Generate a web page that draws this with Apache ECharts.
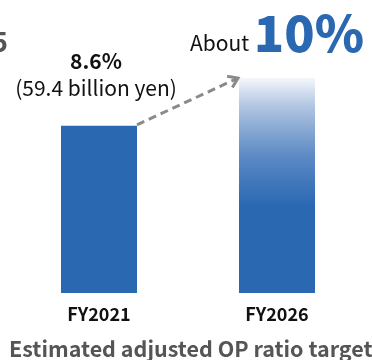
<!DOCTYPE html>
<html>
<head>
<meta charset="utf-8">
<style>
  html, body { margin: 0; padding: 0; background: #fff; }
  #chart { width: 372px; height: 360px; }
</style>
<script src="https://cdn.jsdelivr.net/npm/echarts@6/dist/echarts.min.js"></script>
</head>
<body>
<div id="chart"></div>
<script>
// Operating profit ratio: actual vs. target
const categories = ['FY2021', 'FY2026'];
const opRatio = [8.6, 10];
const profitLabel = '(59.4 billion yen)';
const targetPrefix = 'About';
const chartTitle = 'Estimated adjusted OP ratio target';

const FONT = '"Noto Sans CJK JP", "Noto Sans", sans-serif';
const BLUE = '#2a68b2';

const chart = echarts.init(document.getElementById('chart'), null, { renderer: 'canvas' });

const option = {
  animation: false,
  grid: { left: 10, right: 6, top: 78, bottom: 67, containLabel: false },
  xAxis: {
    type: 'category',
    data: categories,
    axisLine: { show: false },
    axisTick: { show: false },
    axisLabel: {
      margin: 12,
      color: '#111',
      fontFamily: FONT,
      fontWeight: 'bold',
      fontSize: 18
    }
  },
  yAxis: {
    type: 'value',
    min: 3.7,
    max: 10,
    show: false,
    splitLine: { show: false }
  },
  series: [
    {
      type: 'bar',
      barWidth: 76,
      data: [
        {
          value: opRatio[0],
          itemStyle: { color: BLUE },
          label: {
            show: true,
            position: 'top',
            distance: 24,
            offset: [-3, 0],
            formatter: '{a|' + opRatio[0] + '%}\n{b|' + profitLabel + '}',
            rich: {
              a: { fontFamily: FONT, fontSize: 21, fontWeight: 'bold', color: '#111', lineHeight: 26 },
              b: { fontFamily: FONT, fontSize: 21, color: '#111', lineHeight: 28 }
            }
          }
        },
        {
          value: opRatio[1],
          // target bar fades out toward its top
          itemStyle: {
            color: new echarts.graphic.LinearGradient(0, 0, 0, 1, [
              { offset: 0, color: '#f4f7fb' },
              { offset: 0.12, color: '#b6c9e4' },
              { offset: 0.24, color: '#87a8d3' },
              { offset: 0.36, color: '#5e8bc6' },
              { offset: 0.48, color: '#4278bb' },
              { offset: 0.6, color: BLUE },
              { offset: 1, color: BLUE }
            ])
          },
          label: {
            show: true,
            position: 'top',
            distance: 20,
            offset: [0, 0],
            formatter: '{p|' + targetPrefix + ' }{v|' + opRatio[1] + '%}',
            rich: {
              p: { fontFamily: FONT, fontSize: 21, color: '#111', verticalAlign: 'bottom', padding: [0, 0, 4, 0] },
              v: { fontFamily: FONT, fontSize: 50, fontWeight: 900, color: BLUE, verticalAlign: 'bottom' }
            }
          }
        }
      ]
    }
  ],
  graphic: [
    {
      type: 'text',
      left: 9,
      bottom: 0,
      style: {
        text: chartTitle,
        fontFamily: FONT,
        fontSize: 21.5,
        fontWeight: 'bold',
        fill: '#555'
      }
    },
    {
      type: 'text',
      right: 364,
      top: 28,
      style: {
        text: '5',
        fontFamily: FONT,
        fontSize: 27,
        fontWeight: 'bold',
        fill: '#555'
      }
    }
  ]
};

chart.setOption(option);

// Dashed trend arrow from the FY2021 bar top toward the FY2026 bar
function drawArrow() {
  const p0 = chart.convertToPixel({ gridIndex: 0 }, [0, opRatio[0]]);
  const p1 = chart.convertToPixel({ gridIndex: 0 }, [1, opRatio[1]]);
  const x0 = p0[0] + 38, y0 = p0[1] - 1;
  const x1 = p1[0] - 39, y1 = p1[1];
  const ang = Math.atan2(y1 - y0, x1 - x0);
  const L = 11, spread = 0.6;
  const a1 = [x1 - L * Math.cos(ang - spread), y1 - L * Math.sin(ang - spread)];
  const a2 = [x1 - L * Math.cos(ang + spread), y1 - L * Math.sin(ang + spread)];
  chart.setOption({
    graphic: [
      {
        id: 'trend-line',
        type: 'line',
        shape: { x1: x0, y1: y0, x2: x1 - 2, y2: y1 + 1 },
        style: { stroke: '#8a8a8a', lineWidth: 3, lineDash: [8, 5] },
        z: 10
      },
      {
        id: 'trend-head',
        type: 'polyline',
        shape: { points: [a1, [x1, y1], a2] },
        style: { stroke: '#8a8a8a', lineWidth: 3, fill: null },
        z: 10
      }
    ]
  });
}
drawArrow();
</script>
</body>
</html>
